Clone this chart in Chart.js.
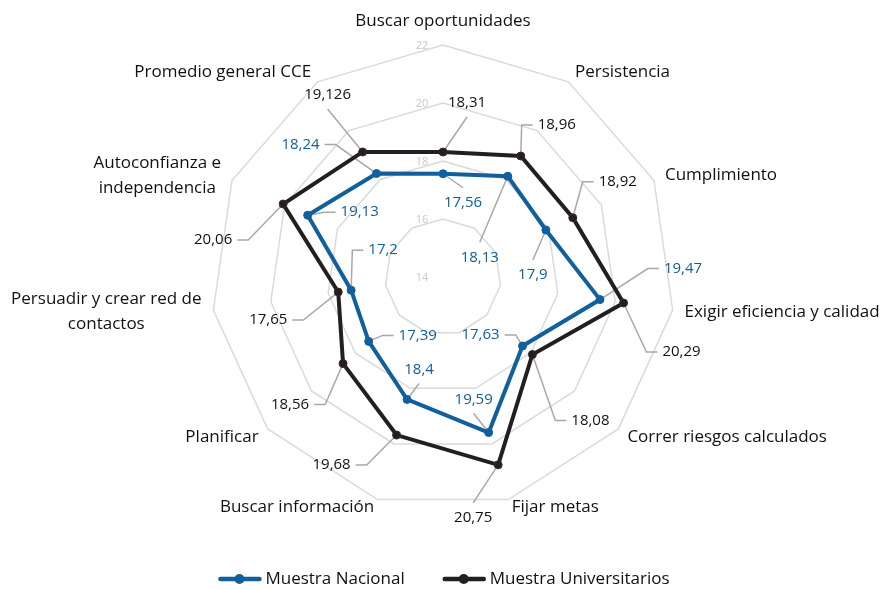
<!DOCTYPE html>
<html lang="es">
<head>
<meta charset="utf-8">
<title>Radar CCE</title>
<script src="https://cdn.jsdelivr.net/npm/chart.js@4.4.1/dist/chart.umd.min.js"></script>
<style>
  html, body { margin: 0; padding: 0; background: #fff; }
  #wrap { width: 886px; height: 589px; }
</style>
</head>
<body>
<div id="wrap"><canvas id="radarChart" width="886" height="589"></canvas></div>
<script>
// Datos
const categorias = [
    'Buscar oportunidades',
    'Persistencia',
    'Cumplimiento',
    'Exigir eficiencia y calidad',
    'Correr riesgos calculados',
    'Fijar metas',
    'Buscar información',
    'Planificar',
    ['Persuadir y crear red de', 'contactos'],
    ['Autoconfianza e', 'independencia'],
    'Promedio general CCE'
];
const muestraNacional = [17.56, 18.13, 17.9, 19.47, 17.63, 19.59, 18.4, 17.39, 17.2, 19.13, 18.24];
const muestraUniversitarios = [18.31, 18.96, 18.92, 20.29, 18.08, 20.75, 19.68, 18.56, 17.65, 20.06, 19.126];
const escalaMin = 14;
const escalaMax = 22;
const escalaPaso = 2;

// Posición de las etiquetas de datos respecto al punto (dx, dy) y tipo de línea guía
// 'v' = línea directa al borde superior/inferior, 's' = línea con codo lateral
const etiquetasNacional = [
    [20, 29, 'v'], [-28, 81, 'v'], [-13, 45, 'v'], [83, -31, 's'], [-42, -11, 's'],
    [-15, -33, 'v'], [12, -30, 'v'], [49, -6, 's'], [32, -40, 's'], [52, -3, 's'], [-76, -29, 's']
];
const etiquetasUniversitarios = [
    [24, -49, 'v'], [36, -31, 's'], [45, -36, 's'], [58, 49, 's'], [58, 66, 's'],
    [-25, 53, 'v'], [-65, 30, 's'], [-53, 41, 's'], [-70, 28, 's'], [-70, 36, 's'], [-35, -57, 'v']
];

const AZUL = '#11609d';
const NEGRO = '#231f20';
const FUENTE = '"Open Sans", "Noto Sans", sans-serif';

function formatoComa(v) {
    return String(v).replace('.', ',');
}

// Etiquetas de los ejes (nombres de las competencias)
const etiquetasEjes = {
    id: 'etiquetasEjes',
    afterDraw(chart) {
        const scale = chart.scales.r;
        const ctx = chart.ctx;
        ctx.save();
        ctx.font = '17px ' + FUENTE;
        ctx.fillStyle = '#111';
        ctx.textAlign = 'left';
        ctx.textBaseline = 'middle';
        chart.data.labels.forEach((lab, i) => {
            const p = scale.getPointPosition(i, scale.drawingArea + 12);
            const lineas = Array.isArray(lab) ? lab : [lab];
            const ancho = Math.max(...lineas.map(l => ctx.measureText(l).width));
            let y = p.y;
            const s = Math.sin(p.angle);
            if (s < -0.95) y -= 12;
            else if (s > 0.9) y -= 4;
            let izq;
            if (p.x > scale.xCenter + 5) izq = p.x;
            else if (p.x < scale.xCenter - 5) izq = p.x - ancho;
            else izq = p.x - ancho / 2;
            lineas.forEach((l, k) => {
                const lw = ctx.measureText(l).width;
                const ly = y + (k - (lineas.length - 1) / 2) * 25;
                ctx.fillText(l, izq + (ancho - lw) / 2, ly);
            });
        });
        ctx.restore();
    }
};

// Números de la escala, a la izquierda del eje superior
const numerosEscala = {
    id: 'numerosEscala',
    beforeDatasetsDraw(chart) {
        const scale = chart.scales.r;
        const ctx = chart.ctx;
        ctx.save();
        ctx.font = '11px ' + FUENTE;
        ctx.fillStyle = '#c8c8c8';
        ctx.textAlign = 'center';
        ctx.textBaseline = 'middle';
        scale.ticks.forEach(t => {
            const d = scale.getDistanceFromCenterForValue(t.value);
            ctx.fillText(String(t.value), scale.xCenter - 21, scale.yCenter - d + 1);
        });
        ctx.restore();
    }
};

function cajaTexto(ctx, txt, x, y) {
    const w = ctx.measureText(txt).width;
    return { l: x - w / 2, r: x + w / 2, t: y - 10, b: y + 10, x: x, y: y };
}

function rutaGuia(pt, c, modo) {
    if (modo === 'v') {
        const ey = pt.y < c.y ? c.y - 15 : c.y + 14;
        return [[pt.x, pt.y], [c.x, ey]];
    }
    if (pt.x < c.x) {
        return [[pt.x, pt.y], [c.l - 16, c.y], [c.l - 5, c.y]];
    }
    return [[pt.x, pt.y], [c.r + 16, c.y], [c.r + 5, c.y]];
}

const conjuntosEtiquetas = [etiquetasNacional, etiquetasUniversitarios];
const coloresEtiquetas = [AZUL, '#111'];

// Etiquetas de datos con líneas guía
const etiquetasDatos = {
    id: 'etiquetasDatos',
    beforeDatasetsDraw(chart) {
        const ctx = chart.ctx;
        ctx.save();
        ctx.font = '15px ' + FUENTE;
        ctx.strokeStyle = '#a8a8a8';
        ctx.lineWidth = 1.5;
        chart.data.datasets.forEach((ds, d) => {
            const meta = chart.getDatasetMeta(d);
            meta.data.forEach((pt, i) => {
                const [dx, dy, modo] = conjuntosEtiquetas[d][i];
                const c = cajaTexto(ctx, formatoComa(ds.data[i]), pt.x + dx, pt.y + dy);
                const ruta = rutaGuia(pt, c, modo);
                ctx.beginPath();
                ruta.forEach(([x, y], k) => k ? ctx.lineTo(x, y) : ctx.moveTo(x, y));
                ctx.stroke();
            });
        });
        ctx.restore();
    },
    afterDatasetsDraw(chart) {
        const ctx = chart.ctx;
        ctx.save();
        ctx.font = '15px ' + FUENTE;
        ctx.textAlign = 'center';
        ctx.textBaseline = 'middle';
        chart.data.datasets.forEach((ds, d) => {
            const meta = chart.getDatasetMeta(d);
            ctx.fillStyle = coloresEtiquetas[d];
            meta.data.forEach((pt, i) => {
                const [dx, dy] = conjuntosEtiquetas[d][i];
                ctx.fillText(formatoComa(ds.data[i]), pt.x + dx, pt.y + dy);
            });
        });
        ctx.restore();
    }
};

// Leyenda inferior (línea con marcador)
const leyendaInferior = {
    id: 'leyendaInferior',
    afterDraw(chart) {
        const ctx = chart.ctx;
        ctx.save();
        ctx.font = '17px ' + FUENTE;
        ctx.textBaseline = 'middle';
        const y = 579;
        const items = chart.data.datasets.map(ds => ({
            txt: ds.label, color: ds.borderColor, w: 42 + 5 + ctx.measureText(ds.label).width
        }));
        const total = items.reduce((a, it) => a + it.w, 0) + 38 * (items.length - 1);
        let x = chart.width / 2 - total / 2 + 1;
        items.forEach(it => {
            ctx.strokeStyle = it.color;
            ctx.lineWidth = 4.5;
            ctx.lineCap = 'round';
            ctx.beginPath();
            ctx.moveTo(x + 2, y);
            ctx.lineTo(x + 41, y);
            ctx.stroke();
            ctx.fillStyle = it.color;
            ctx.beginPath();
            ctx.arc(x + 21, y, 5, 0, Math.PI * 2);
            ctx.fill();
            ctx.fillStyle = '#111';
            ctx.fillText(it.txt, x + 47, y);
            x += it.w + 38;
        });
        ctx.restore();
    }
};

const ctx = document.getElementById('radarChart').getContext('2d');
const radarChart = new Chart(ctx, {
    type: 'radar',
    data: {
        labels: categorias,
        datasets: [
            {
                label: 'Muestra Nacional',
                data: muestraNacional,
                borderColor: AZUL,
                backgroundColor: AZUL,
                pointBackgroundColor: AZUL,
                pointBorderColor: AZUL,
                borderWidth: 4,
                pointRadius: 4,
                pointBorderWidth: 1,
                fill: false,
                tension: 0
            },
            {
                label: 'Muestra Universitarios',
                data: muestraUniversitarios,
                borderColor: NEGRO,
                backgroundColor: NEGRO,
                pointBackgroundColor: NEGRO,
                pointBorderColor: '#3b2a22',
                borderWidth: 4,
                pointRadius: 4,
                pointBorderWidth: 1,
                fill: false,
                tension: 0
            }
        ]
    },
    options: {
        responsive: false,
        animation: false,
        layout: { padding: { top: 45, bottom: 80, left: 0, right: 0 } },
        plugins: {
            legend: { display: false },
            tooltip: { enabled: false }
        },
        scales: {
            r: {
                min: escalaMin,
                max: escalaMax,
                beginAtZero: false,
                ticks: { stepSize: escalaPaso, display: false },
                angleLines: { display: false },
                grid: { color: '#dadada', lineWidth: 1.5 },
                pointLabels: { display: false }
            }
        }
    },
    plugins: [numerosEscala, etiquetasDatos, etiquetasEjes, leyendaInferior]
});
</script>
</body>
</html>
